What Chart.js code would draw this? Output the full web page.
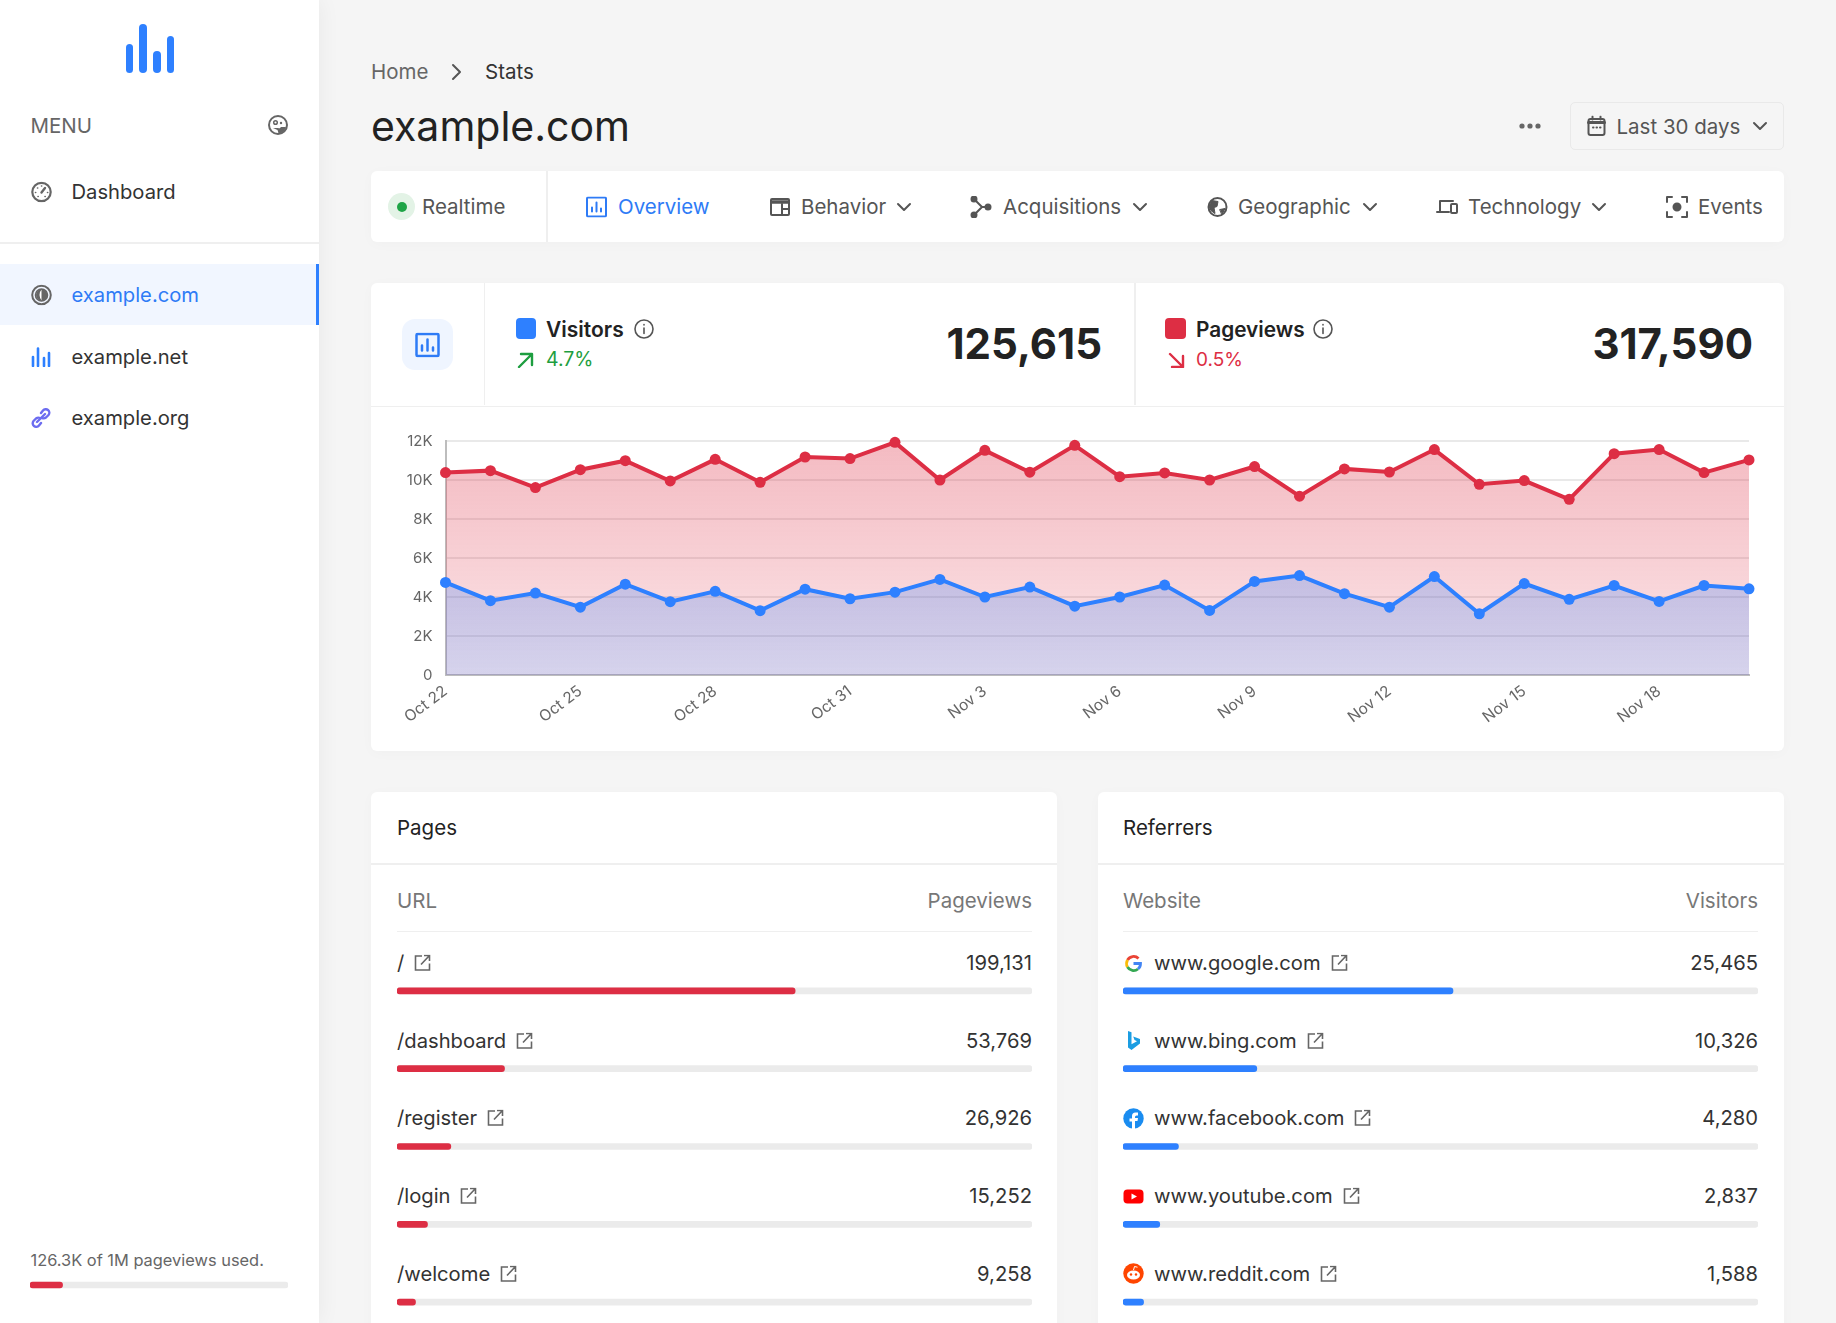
<!DOCTYPE html>
<html>
<head>
<meta charset="utf-8">
<title>example.com stats</title>
<script src="https://cdn.jsdelivr.net/npm/chart.js@4"></script>
<style>
  html, body { margin: 0; padding: 0; width: 1836px; height: 1323px; overflow: hidden; background: #f5f5f5; font-family: Inter, sans-serif; color: #333; }
  .box { position: absolute; background: #fff; border-radius: 6px; box-shadow: 0 2px 14px rgba(0,0,0,.025); }
  .line { position: absolute; background: #efefef; }
  .t { position: absolute; white-space: nowrap; transform: translateY(-50%); font-size: 20.5px; line-height: 1.2; }
  .s { font-size: 20.2px; }
  .i { position: absolute; transform: translateY(-50%); fill: none; stroke: #555; stroke-width: 2; stroke-linecap: round; stroke-linejoin: round; }
  canvas { position: absolute; }
</style>
</head>
<body>
<!-- sidebar -->
<div style="position:absolute;left:0;top:0;width:319px;height:1323px;background:#fff;box-shadow:0 0 22px rgba(0,0,0,.06)"></div>
<div style="position:absolute;left:125.5px;top:44px;width:7.5px;height:29px;background:#2e80ff;border-radius:4px"></div>
<div style="position:absolute;left:139px;top:24px;width:7.5px;height:49px;background:#2e80ff;border-radius:4px"></div>
<div style="position:absolute;left:153px;top:51px;width:7.5px;height:22px;background:#2e80ff;border-radius:4px"></div>
<div style="position:absolute;left:166.5px;top:36px;width:7.5px;height:37px;background:#2e80ff;border-radius:4px"></div>
<div class="t" style="left:30.5px;top:126px;color:#666">MENU</div>
<svg class="i" style="left:268px;top:125px;stroke:#666" width="20" height="20" viewBox="0 0 20 20"><circle cx="10" cy="10" r="9"/><circle cx="7.500" cy="7.500" r="1.800" stroke-width="1.500"/><circle cx="13" cy="8" r="1.200" fill="#666" stroke="none"/><path d="M5 13h5l5 1.500-4 4.500-1.500-4z" fill="#666" stroke="none"/><path d="M11 19q6-2 7-7h-5l-3 3z" fill="#666" stroke="none"/></svg>
<svg class="i" style="left:31px;top:192px;stroke:#666" width="21" height="21" viewBox="0 0 21 21"><circle cx="10.500" cy="10.500" r="9.200" stroke-width="2.200"/><path d="M10.500 11l3.500-4.500" stroke-width="2.400"/><path d="M4.500 11h.2M6.500 6.500h.2M10.500 4.500h.2M16.500 11h.2M7 15h.2M14 15h.2" stroke-width="1.600"/></svg>
<div class="t s" style="left:71.500px;top:191.500px">Dashboard</div>
<div class="line" style="left:0;top:242px;width:319px;height:1.500px"></div>
<div style="position:absolute;left:0;top:264px;width:316px;height:61px;background:#f1f6ff;border-right:3px solid #2e80ff"></div>
<svg class="i" style="left:31px;top:295px;stroke:#666" width="21" height="21" viewBox="0 0 21 21"><circle cx="10.500" cy="10.500" r="9.300" stroke-width="2"/><circle cx="10.500" cy="10.500" r="6" fill="#fff" stroke-width="1.600"/><path d="M11 4.500a6 6 0 0 0 0 12q-2.500-2.500-2.500-6t2.500-6z" fill="#666" stroke="none"/><path d="M10.500 4.500a6 6 0 0 1 0 12z" fill="#666" stroke="none"/></svg>
<div class="t s" style="left:71.500px;top:295px;color:#2e7bf6">example.com</div>
<svg class="i" style="left:31px;top:357px;stroke:#2e80ff;stroke-width:2.600" width="20" height="20" viewBox="0 0 20 20"><path d="M2 19v-9M7 19V1.500M13 19v-8M18 19V6"/></svg>
<div class="t s" style="left:71.500px;top:357px">example.net</div>
<svg class="i" style="left:31px;top:418px;stroke:#6c6cf0;stroke-width:2.400" width="20" height="20" viewBox="0 0 20 20"><path d="M6 14L14 6M10 5l2-2.500a3.500 3.500 0 0 1 5.500 4.500L15 9.500q-2 1.500-4 .5M10 15l-2 2.500a3.500 3.500 0 0 1-5.500-4.500L5 10.500q2-1.500 4-.5"/></svg>
<div class="t s" style="left:71.500px;top:418px">example.org</div>
<div class="t" style="left:30.500px;top:1261px;font-size:16.400px;color:#666">126.3K of 1M pageviews used.</div>
<canvas id="usageBar" width="258" height="10" style="left:30px;top:1280px"></canvas>

<!-- header -->
<div class="t" style="left:371px;top:72px;color:#666">Home</div>
<svg class="i" style="left:451px;top:72px" width="11" height="18" viewBox="0 0 11 18"><path d="M2 2l7 7-7 7"/></svg>
<div class="t" style="left:485px;top:72px">Stats</div>
<div class="t" style="left:371px;top:126.500px;font-size:41px;color:#222">example.com</div>
<svg class="i" style="left:1519px;top:126px;stroke:none;fill:#666" width="22" height="6" viewBox="0 0 22 6"><circle cx="3" cy="3" r="2.600"/><circle cx="11" cy="3" r="2.600"/><circle cx="19" cy="3" r="2.600"/></svg>
<div style="position:absolute;left:1570px;top:102px;width:212px;height:46px;border:1px solid #e9e9e9;border-radius:5px"></div>
<svg class="i" style="left:1587px;top:126px" width="19" height="21" viewBox="0 0 19 21"><rect x="1.500" y="3.500" width="16" height="16" rx="2"/><path d="M1.500 7h16" stroke-width="3"/><path d="M5.500 1v3M13.500 1v3M6 12h.5M9.500 12h.5M13 12h.5"/></svg>
<div class="t" style="left:1616.500px;top:126.500px;color:#555">Last 30 days</div>
<svg class="i" style="left:1752px;top:126px" width="16" height="10" viewBox="0 0 16 10"><path d="M2 2l6 6 6-6"/></svg>

<!-- tabs -->
<div class="box" style="left:371px;top:171px;width:1413px;height:71px"></div>
<div class="line" style="left:546px;top:171px;width:1.500px;height:71px"></div>
<div style="position:absolute;left:388px;top:193px;width:27px;height:27px;border-radius:50%;background:#e3f3e6"></div>
<div style="position:absolute;left:396.500px;top:201.500px;width:10px;height:10px;border-radius:50%;background:#1ea446"></div>
<div class="t" style="left:422px;top:207px;color:#555">Realtime</div>
<svg class="i" style="left:586px;top:207px;stroke:#2e7bf6" width="21" height="21" viewBox="0 0 21 21"><rect x="1" y="1" width="19" height="19" rx="1"/><path d="M6 15v-4M10.500 15V6M15 15v-3"/></svg>
<div class="t" style="left:618px;top:207px;color:#2e7bf6">Overview</div>
<svg class="i" style="left:770px;top:207px" width="20" height="18" viewBox="0 0 20 18"><rect x="1" y="1" width="18" height="16" rx="1"/><path d="M1 4h18" stroke-width="3.500"/><path d="M12 6v10M12 11h7"/></svg>
<div class="t" style="left:801px;top:207px;color:#555">Behavior</div>
<svg class="i" style="left:896px;top:207px" width="16" height="10" viewBox="0 0 16 10"><path d="M2 2l6 6 6-6"/></svg>
<svg class="i" style="left:970px;top:207px" width="22" height="22" viewBox="0 0 22 22"><path d="M4 3l8 8-8 8M12 11h7"/><circle cx="4" cy="3" r="2.500" fill="#555"/><circle cx="4" cy="19" r="2.500" fill="#555"/><circle cx="18" cy="11" r="2.500" fill="#555"/></svg>
<div class="t" style="left:1003px;top:207px;color:#555">Acquisitions</div>
<svg class="i" style="left:1132px;top:207px" width="16" height="10" viewBox="0 0 16 10"><path d="M2 2l6 6 6-6"/></svg>
<svg class="i" style="left:1207px;top:207px" width="21" height="21" viewBox="0 0 21 21"><circle cx="10.500" cy="10.500" r="9"/><path d="M2 9l3-5 6 1-1 5-3 1 1 6q-5-2-6-8zM13 13l5-1-3 6z" fill="#555" stroke-width="1"/></svg>
<div class="t" style="left:1238px;top:207px;color:#555">Geographic</div>
<svg class="i" style="left:1362px;top:207px" width="16" height="10" viewBox="0 0 16 10"><path d="M2 2l6 6 6-6"/></svg>
<svg class="i" style="left:1436px;top:207px" width="22" height="18" viewBox="0 0 22 18"><path d="M4 13V3h13M1 14h12"/><rect x="15" y="6" width="6" height="9" rx="1"/></svg>
<div class="t" style="left:1468px;top:207px;color:#555">Technology</div>
<svg class="i" style="left:1591px;top:207px" width="16" height="10" viewBox="0 0 16 10"><path d="M2 2l6 6 6-6"/></svg>
<svg class="i" style="left:1666px;top:207px" width="22" height="22" viewBox="0 0 22 22"><path d="M1 6V1h5M16 1h5v5M21 16v5h-5M6 21H1v-5"/><circle cx="11" cy="11" r="3.500" fill="#555"/></svg>
<div class="t" style="left:1698px;top:207px;color:#555">Events</div>

<!-- stats card -->
<div class="box" style="left:371px;top:283px;width:1413px;height:467.500px"></div>
<div class="line" style="left:371px;top:405.500px;width:1413px;height:1.500px"></div>
<div class="line" style="left:483.500px;top:283px;width:1.500px;height:122px"></div>
<div class="line" style="left:1134px;top:283px;width:1.500px;height:122px"></div>
<div style="position:absolute;left:402px;top:319px;width:51px;height:51px;border-radius:13px;background:#eff5ff"></div>
<svg class="i" style="left:415px;top:344.500px;stroke:#2e7bf6;stroke-width:2.500" width="25" height="25" viewBox="0 0 25 25"><rect x="1.500" y="1.500" width="22" height="22" rx="1"/><path d="M7 18v-5M12.500 18V7M18 18v-3"/></svg>
<div style="position:absolute;left:515.500px;top:318px;width:20.500px;height:21px;border-radius:4px;background:#2e80ff"></div>
<div class="t" style="left:546px;top:329.500px;font-size:21px;font-weight:600;color:#222">Visitors</div>
<svg class="i" style="left:634px;top:329px;stroke-width:1.600" width="20" height="20" viewBox="0 0 20 20"><circle cx="10" cy="10" r="9"/><path d="M10 9v5.500M10 5.500v.5"/></svg>
<svg class="i" style="left:517px;top:360px;stroke:#1e9e40;stroke-width:2.400" width="17" height="16" viewBox="0 0 17 16"><path d="M2 15L15 2M4 2h11v11"/></svg>
<div class="t" style="left:546px;top:360px;font-size:19.500px;color:#1e9e40">4.7%</div>
<div class="t" style="right:734px;top:344px;font-size:42px;font-weight:700;color:#222">125,615</div>
<div style="position:absolute;left:1165px;top:318px;width:20.500px;height:21px;border-radius:4px;background:#dd2e44"></div>
<div class="t" style="left:1196px;top:329.500px;font-size:20.800px;font-weight:600;color:#222">Pageviews</div>
<svg class="i" style="left:1313px;top:329px;stroke-width:1.600" width="20" height="20" viewBox="0 0 20 20"><circle cx="10" cy="10" r="9"/><path d="M10 9v5.500M10 5.500v.5"/></svg>
<svg class="i" style="left:1168px;top:360px;stroke:#dd2e44;stroke-width:2.400" width="17" height="16" viewBox="0 0 17 16"><path d="M2 2L15 15M4 15h11V4"/></svg>
<div class="t" style="left:1196px;top:360px;font-size:19px;color:#dd2e44">0.5%</div>
<div class="t" style="right:83px;top:344px;font-size:42px;font-weight:700;color:#222">317,590</div>
<canvas id="trafficChart" width="1413" height="343" style="left:371px;top:407px"></canvas>

<!-- tables -->
<div class="box" style="left:371px;top:791.500px;width:686px;height:600px"></div>
<div class="box" style="left:1098px;top:791.500px;width:685.500px;height:600px"></div>
<div class="line" style="left:371px;top:863px;width:686px;height:1.500px"></div>
<div class="line" style="left:1098px;top:863px;width:685.500px;height:1.500px"></div>
<div class="line" style="left:397px;top:930.500px;width:635px;height:1.500px"></div>
<div class="line" style="left:1123px;top:930.500px;width:635px;height:1.500px"></div>
<div class="t" style="left:397px;top:827.500px;color:#222">Pages</div>
<div class="t" style="left:1123px;top:827.500px;color:#222">Referrers</div>
<div class="t" style="left:397px;top:900.500px;color:#777">URL</div>
<div class="t" style="right:804px;top:900.500px;color:#777">Pageviews</div>
<div class="t" style="left:1123px;top:900.500px;color:#777">Website</div>
<div class="t" style="right:78px;top:900.500px;color:#777">Visitors</div>
<div id="pageRows"></div>
<div id="referrerRows"></div>
<canvas id="pageBars" width="635" height="389" style="left:397px;top:952px"></canvas>
<canvas id="referrerBars" width="635" height="389" style="left:1123px;top:952px"></canvas>

<script>
const dates = ['Oct 22', 'Oct 23', 'Oct 24', 'Oct 25', 'Oct 26', 'Oct 27', 'Oct 28', 'Oct 29', 'Oct 30', 'Oct 31',
  'Nov 1', 'Nov 2', 'Nov 3', 'Nov 4', 'Nov 5', 'Nov 6', 'Nov 7', 'Nov 8', 'Nov 9', 'Nov 10',
  'Nov 11', 'Nov 12', 'Nov 13', 'Nov 14', 'Nov 15', 'Nov 16', 'Nov 17', 'Nov 18', 'Nov 19', 'Nov 20'];
const pageviews = [10380, 10480, 9610, 10530, 10990, 9950, 11060, 9880, 11180, 11100,
  11930, 10000, 11520, 10400, 11780, 10170, 10360, 10000, 10690, 9170,
  10570, 10410, 11560, 9780, 9970, 9010, 11350, 11560, 10380, 11030];
const visitors = [4750, 3810, 4200, 3480, 4660, 3760, 4290, 3300, 4400, 3910,
  4250, 4900, 4000, 4510, 3530, 4000, 4610, 3310, 4800, 5100,
  4170, 3480, 5050, 3140, 4690, 3880, 4590, 3770, 4590, 4420];

const pageUrls = ['/', '/dashboard', '/register', '/login', '/welcome'];
const pageCounts = [199131, 53769, 26926, 15252, 9258];
const pageTotal = 317590;
const referrerSites = ['www.google.com', 'www.bing.com', 'www.facebook.com', 'www.youtube.com', 'www.reddit.com'];
const referrerCounts = [25465, 10326, 4280, 2837, 1588];
const referrerTotal = 49000;
const usedPageviews = [126300];
const usageLimit = 1000000;

const RED = '#dd2e44';
const BLUE = '#2e80ff';
const TRACK = '#ebebeb';

const referrerIcons = [
  '<g fill="none" stroke-width="2.800"><path d="M4.500 7A7 7 0 0 1 15.500 5.500" stroke="#ea4335"/><path d="M4.500 7a7 7 0 0 0 0 7" stroke="#fbbc05"/><path d="M4.500 14a7 7 0 0 0 10.500 2" stroke="#34a853"/><path d="M15 16a7 7 0 0 0 2.500-5.500h-7" stroke="#4285f4"/></g>',
  '<path d="M5 1l3.500 1.300v12l5.500-3-2.500-1.200-1.300-3.600 6.800 2.500v4.500L8.500 20 5 17.500z" fill="#1b9de2"/>',
  '<circle cx="10.500" cy="10.500" r="10.200" fill="#1a8cf0"/><path d="M9 21v-7.500H6.500v-3H9V8q0-3.500 3.500-3.500H15v3h-1.500q-1.500 0-1.500 1.500v1h3l-.5 3H12V21z" fill="#fff"/>',
  '<rect x="0.500" y="3.500" width="20" height="14" rx="4" fill="#f00"/><path d="M8.500 7.500l5.500 3-5.500 3z" fill="#fff"/>',
  '<circle cx="10.500" cy="10.500" r="10.200" fill="#ff4500"/><ellipse cx="10.500" cy="12" rx="6.500" ry="4.500" fill="#fff"/><circle cx="8" cy="11.500" r="1.200" fill="#ff4500"/><circle cx="13" cy="11.500" r="1.200" fill="#ff4500"/><path d="M10.500 7l1-3.500 3 .7" stroke="#fff" fill="none"/>'
];
const externalIcon = '<svg width="17" height="17" viewBox="0 0 17 17" style="position:absolute;transform:translateY(-50%);fill:none;stroke:#666;stroke-width:1.600"><path d="M8 1.500H1.500v14h14V9M7 10l8-8.500M10 1h5.500v5.500"/></svg>';

// table rows are text only, the bars below are real charts
function fillRows(holderId, left, right, names, counts, icons) {
  const holder = document.getElementById(holderId);
  names.forEach((name, i) => {
    const y = 963 + i * 77.7;
    const textLeft = icons ? left + 31 : left;
    let html = `<div class="t s" style="left:${textLeft}px;top:${y}px" data-row>${name}</div>`;
    html += `<div class="t s" style="right:${1836 - right}px;top:${y}px">${counts[i].toLocaleString('en-US')}</div>`;
    if (icons) {
      html += `<svg width="21" height="21" viewBox="0 0 21 21" style="position:absolute;left:${left}px;top:${y - 10.5}px">${icons[i]}</svg>`;
    }
    holder.insertAdjacentHTML('beforeend', html);
    const label = holder.querySelectorAll('[data-row]')[i];
    holder.insertAdjacentHTML('beforeend', `<div style="position:absolute;left:${textLeft + label.offsetWidth + 10}px;top:${y}px">${externalIcon}</div>`);
  });
}

function renderBars(canvasId, labels, values, total, color) {
  new Chart(document.getElementById(canvasId), {
    type: 'bar',
    data: {
      labels: labels,
      datasets: [
        { data: values, backgroundColor: color, order: 1 },
        { data: values.map(() => total), backgroundColor: TRACK, order: 2 }
      ]
    },
    options: {
      indexAxis: 'y',
      responsive: false,
      animation: false,
      datasets: { bar: { grouped: false, barThickness: 6, borderRadius: 3, borderSkipped: false } },
      plugins: { legend: { display: false }, tooltip: { enabled: false } },
      scales: {
        x: { display: false, min: 0, max: total },
        y: { display: false }
      }
    }
  });
}

// gradient runs over the plot area, from the 12K line to the axis
function areaFill(rgb, topAlpha, bottomAlpha) {
  return (context) => {
    const { ctx, chartArea } = context.chart;
    if (!chartArea) return `rgba(${rgb}, ${topAlpha})`;
    const gradient = ctx.createLinearGradient(0, chartArea.top, 0, chartArea.bottom);
    gradient.addColorStop(0, `rgba(${rgb}, ${topAlpha})`);
    gradient.addColorStop(1, `rgba(${rgb}, ${bottomAlpha})`);
    return gradient;
  };
}

function renderTrafficChart() {
  new Chart(document.getElementById('trafficChart'), {
    type: 'line',
    data: {
      labels: dates,
      datasets: [
        {
          label: 'Visitors',
          data: visitors,
          borderColor: BLUE,
          backgroundColor: areaFill('46, 128, 255', 0.36, 0.18),
          pointBackgroundColor: BLUE,
          fill: 'origin',
          clip: false,
          order: 1
        },
        {
          label: 'Pageviews',
          data: pageviews,
          borderColor: RED,
          backgroundColor: areaFill('221, 46, 68', 0.33, 0.12),
          pointBackgroundColor: RED,
          fill: 'origin',
          clip: false,
          order: 2
        }
      ]
    },
    options: {
      responsive: false,
      animation: false,
      layout: { padding: { top: 34, right: 35 } },
      elements: {
        line: { tension: 0, borderWidth: 4 },
        point: { radius: 5.5, borderWidth: 0 }
      },
      plugins: { legend: { display: false }, tooltip: { enabled: false } },
      scales: {
        x: {
          afterFit: (axis) => { axis.height = 75; },
          grid: { display: false },
          border: { color: '#bdbdbd', width: 2 },
          ticks: {
            autoSkip: false,
            minRotation: 37,
            maxRotation: 37,
            padding: -1,
            color: '#666',
            font: { family: 'Inter', size: 15.5 },
            callback: (value, index) => index % 3 === 0 ? dates[index] : null
          }
        },
        y: {
          min: 0,
          max: 12000,
          afterFit: (axis) => { axis.width = 74.5; },
          grid: { color: '#e9e9e9', lineWidth: 2, drawTicks: false },
          border: { color: '#bdbdbd', width: 2 },
          ticks: {
            stepSize: 2000,
            padding: 13,
            color: '#666',
            font: { family: 'Inter', size: 15 },
            callback: (value) => value === 0 ? '0' : `${value / 1000}K`
          }
        }
      }
    }
  });
}

fillRows('pageRows', 397, 1032, pageUrls, pageCounts, null);
fillRows('referrerRows', 1123, 1758, referrerSites, referrerCounts, referrerIcons);
renderTrafficChart();
renderBars('pageBars', pageUrls, pageCounts, pageTotal, RED);
renderBars('referrerBars', referrerSites, referrerCounts, referrerTotal, BLUE);
renderBars('usageBar', ['used'], usedPageviews, usageLimit, RED);
</script>
</body>
</html>
